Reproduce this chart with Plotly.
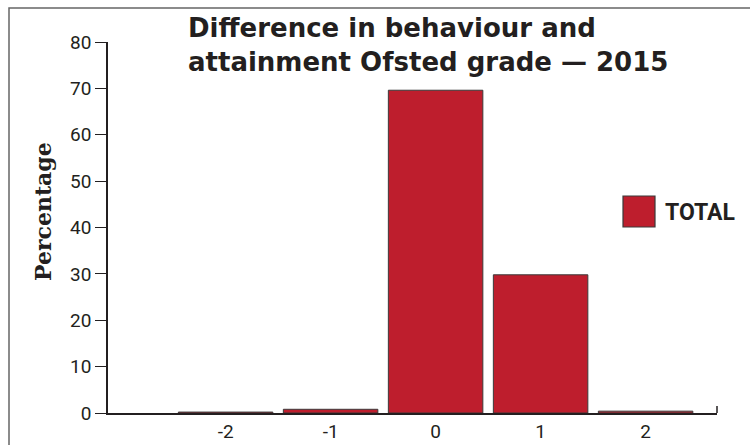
import plotly.graph_objects as go

categories = [-2, -1, 0, 1, 2]
category_labels = ["-2", "-1", "0", "1", "2"]
total_pct = [0.2, 0.8, 69.6, 29.8, 0.4]
y_ticks = [0, 10, 20, 30, 40, 50, 60, 70, 80]
series_name = "TOTAL"
title_text = "Difference in behaviour and<br>attainment Ofsted grade — 2015"
y_title = "Percentage"

RED = "#BE1E2D"
DARK = "#231F20"

W, H = 750, 445
L, R, T, B = 108, 33, 42, 32
pw, ph = W - L - R, H - T - B

def px(x):
    return (x - L) / pw

def py(y):
    return (H - B - y) / ph

fig = go.Figure()
fig.add_trace(go.Bar(
    x=categories, y=total_pct, name=series_name, width=0.9,
    marker=dict(color=RED, line=dict(color="#3a3a3a", width=1)),
    showlegend=False,
))

fig.update_layout(
    template="none",
    width=W, height=H,
    margin=dict(l=L, r=R, t=T, b=B, autoexpand=False),
    paper_bgcolor="white", plot_bgcolor="white",
    xaxis=dict(range=[-3.12, 2.68], tickvals=categories, ticktext=category_labels,
               automargin=False,
               ticks="", showline=True, linecolor=DARK, linewidth=1.5, showgrid=False,
               zeroline=False, tickfont=dict(family="Roboto", size=19, color=DARK)),
    yaxis=dict(range=[0, 80], tickvals=y_ticks, ticks="outside", ticklen=11,
               automargin=False,
               tickcolor=DARK, tickwidth=1.2,
               showline=True, linecolor=DARK, linewidth=1.5, showgrid=False,
               zeroline=False, tickfont=dict(family="Roboto", size=19, color=DARK)),
    font=dict(family="Roboto", color=DARK),
)

# title
fig.add_annotation(text=title_text, xref="paper", yref="paper",
                   x=px(186), y=py(11), xanchor="left", yanchor="top", align="left",
                   showarrow=False,
                   font=dict(family="DejaVu Sans", size=26, color=DARK, weight="bold"))

# y-axis title
fig.add_annotation(text=y_title, textangle=-90, xref="paper", yref="paper",
                   x=px(43), y=py(212), xanchor="center", yanchor="middle",
                   showarrow=False,
                   font=dict(family="DejaVu Serif", size=22, color=DARK, weight="bold"))

# outer frame (left and top)
fig.add_shape(type="path", xref="paper", yref="paper",
              path=f"M {px(9)} {py(H+2)} L {px(9)} {py(8)} L {px(W+2)} {py(8)}",
              line=dict(color="#666666", width=1.5))

# small end tick at right of x axis
fig.add_shape(type="line", xref="paper", yref="paper",
              x0=1, x1=1, y0=0, y1=py(406), line=dict(color=DARK, width=1.5))

# legend swatch + label
fig.add_shape(type="rect", xref="paper", yref="paper",
              x0=px(623), x1=px(655), y0=py(227), y1=py(196),
              fillcolor=RED, line=dict(color="#3a3a3a", width=1.2))
fig.add_annotation(text="<b>" + series_name + "</b>", xref="paper", yref="paper",
                   x=px(663), y=py(212), xanchor="left", yanchor="middle",
                   showarrow=False,
                   font=dict(family="Roboto", size=23, color=DARK))

fig.write_html("out.html")
